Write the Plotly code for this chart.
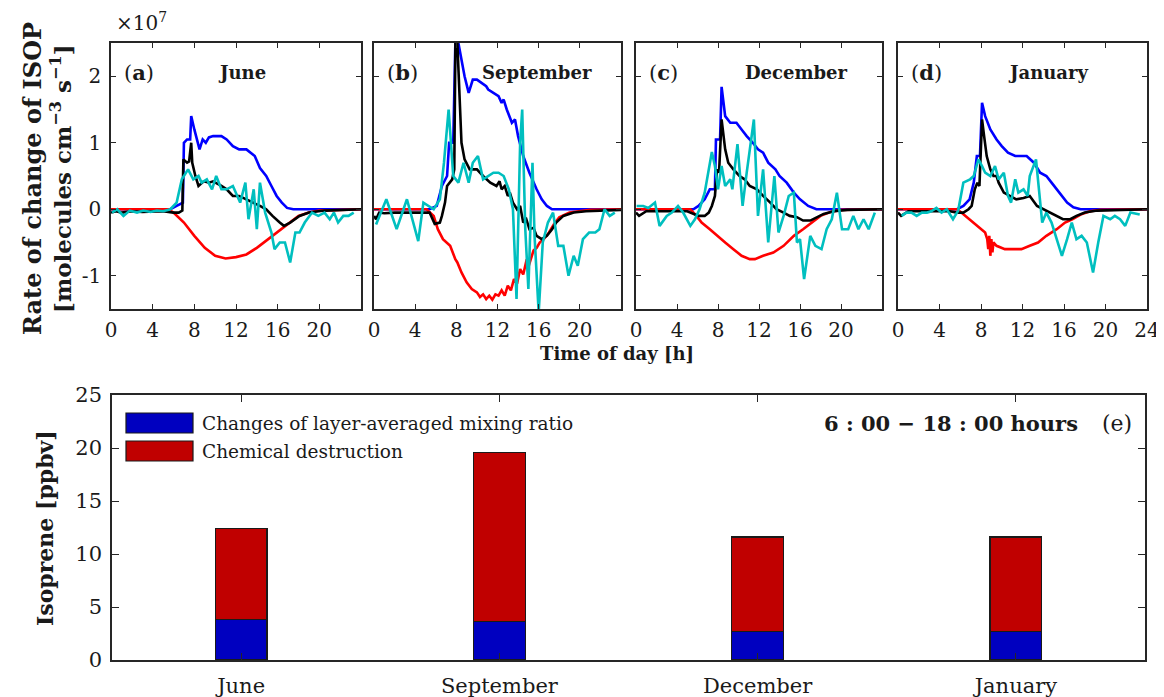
import plotly.graph_objects as go

# ---------------- data (units of 1e7 molecules cm^-3 s^-1) ----------------
# June
jun_blue_t = [0, 5.7, 6.3, 6.9, 7.0, 7.3, 7.6, 7.7, 8.0, 8.5, 8.8, 9.1, 9.4, 9.8, 10.6, 11.1, 11.7, 12.3, 13.0, 13.4, 13.8, 14.3, 14.9, 15.4, 15.9, 16.4, 16.9, 17.5, 24]
jun_blue_v = [0, 0, 0.05, 0.1, 1.0, 1.05, 1.05, 1.4, 1.2, 0.9, 1.05, 1.0, 1.08, 1.1, 1.1, 1.05, 0.95, 0.9, 0.9, 0.85, 0.8, 0.62, 0.5, 0.35, 0.2, 0.1, 0.02, 0, 0]
jun_red_t = [0, 5.5, 6, 7, 8, 9, 10, 11, 12, 13, 14, 15, 16, 17, 18, 19, 20, 24]
jun_red_v = [0, 0, -0.05, -0.2, -0.4, -0.58, -0.7, -0.74, -0.72, -0.68, -0.58, -0.46, -0.33, -0.21, -0.1, -0.05, -0.02, 0]
jun_black_t = [0, 0.5, 1, 2, 3, 4, 5, 6, 6.5, 6.85, 6.95, 7.3, 7.5, 7.7, 7.8, 8.1, 8.4, 8.9, 9.4, 9.8, 10.3, 10.6, 11.1, 11.7, 12.3, 13.0, 13.7, 14.3, 14.9, 15.5, 16.2, 16.6, 17.2, 18.1, 19.0, 20.5, 24]
jun_black_v = [-0.05, -0.03, -0.05, -0.03, -0.04, -0.03, -0.03, -0.05, -0.05, -0.02, 0.75, 0.7, 0.72, 1.0, 0.7, 0.5, 0.35, 0.42, 0.4, 0.42, 0.38, 0.35, 0.3, 0.2, 0.2, 0.15, 0.1, 0.05, 0.0, -0.1, -0.2, -0.25, -0.2, -0.1, -0.05, -0.02, 0]
jun_cyan_t = [0.1, 0.6, 1.2, 1.8, 2.5, 3.1, 3.8, 4.4, 5.0, 5.7, 6.3, 6.8, 7.4, 7.9, 8.4, 8.7, 9.2, 9.7, 10.1, 10.6, 11.1, 11.7, 12.4, 12.9, 13.2, 13.7, 14.0, 14.3, 14.8, 15.4, 15.7, 16.2, 16.7, 17.2, 17.7, 18.1, 18.6, 19.3, 19.9, 20.5, 21.0, 21.4, 21.8, 22.3, 22.8, 23.3]
jun_cyan_v = [-0.05, 0, -0.1, -0.02, -0.05, -0.02, -0.04, -0.02, -0.03, 0, 0.1, 0.45, 0.6, 0.45, 0.5, 0.4, 0.45, 0.3, 0.5, 0.3, 0.3, 0.35, 0.1, 0.4, -0.15, 0.3, -0.3, 0.4, -0.05, -0.35, -0.6, -0.5, -0.5, -0.8, -0.35, -0.35, -0.2, -0.05, -0.1, -0.05, -0.15, -0.05, -0.2, -0.1, -0.1, -0.05]

# September
sep_blue_t = [0, 5.4, 6.1, 6.6, 7.1, 7.3, 7.7, 7.9, 8.0, 8.2, 8.8, 9.2, 9.6, 10.0, 10.5, 10.9, 11.1, 11.6, 12.1, 12.4, 12.6, 12.9, 13.4, 13.7, 14.0, 14.5, 15.1, 15.8, 16.3, 16.8, 17.3, 24]
sep_blue_v = [0, 0, 0.05, 0.35, 0.5, 1.0, 1.0, 2.0, 3.2, 2.5, 2.0, 1.75, 1.95, 1.95, 1.9, 1.85, 1.8, 1.75, 1.7, 1.6, 1.65, 1.5, 1.3, 1.35, 1.1, 0.8, 0.55, 0.3, 0.15, 0.05, 0, 0]
sep_red_t = [0, 5.1, 5.8, 6.2, 6.7, 7.4, 7.9, 8.1, 8.5, 9.0, 9.5, 10.0, 10.3, 10.6, 10.9, 11.2, 11.5, 11.8, 12.1, 12.4, 12.7, 13.0, 13.3, 13.6, 13.9, 14.2, 14.5, 14.8, 15.1, 15.5, 15.8, 16.1, 16.5, 17.0, 17.5, 18.0, 19.0, 20.0, 21.0, 24]
sep_red_v = [0, 0, -0.1, -0.3, -0.45, -0.55, -0.75, -0.8, -0.95, -1.1, -1.2, -1.25, -1.32, -1.28, -1.35, -1.3, -1.36, -1.28, -1.3, -1.22, -1.3, -1.15, -1.22, -1.05, -1.12, -0.9, -0.98, -0.78, -0.82, -0.62, -0.58, -0.5, -0.45, -0.35, -0.22, -0.12, -0.05, -0.03, -0.01, 0]
sep_black_t = [0, 0.2, 0.5, 1, 2, 3, 4, 5, 5.4, 5.9, 6.4, 6.6, 6.9, 7.1, 7.4, 7.6, 7.8, 8.0, 8.1, 8.3, 8.5, 8.8, 9.3, 10.0, 10.6, 11.3, 11.9, 12.2, 12.4, 12.7, 13.0, 13.2, 13.5, 13.9, 14.2, 14.5, 14.8, 15.1, 15.5, 15.8, 16.3, 16.8, 17.3, 17.7, 18.4, 19.4, 20.6, 24]
sep_black_v = [-0.1, -0.15, -0.05, -0.06, -0.05, -0.05, -0.05, -0.05, -0.05, -0.22, -0.2, -0.1, 0.1, 0.35, 0.4, 0.45, 0.6, 4.0, 2.5, 1.8, 1.0, 0.75, 0.6, 0.6, 0.5, 0.4, 0.35, 0.42, 0.3, 0.35, 0.2, 0.25, 0.1, 0.0, 0.05, -0.2, -0.15, -0.3, -0.28, -0.4, -0.45, -0.4, -0.3, -0.2, -0.1, -0.05, -0.03, -0.01]
sep_cyan_t = [0.2, 1.2, 2.2, 3.2, 4.3, 4.8, 5.8, 6.4, 6.8, 7.25, 7.7, 8.2, 8.7, 9.2, 9.6, 10.1, 10.6, 11.1, 11.6, 12.1, 12.6, 13.1, 13.5, 13.85, 14.2, 14.4, 14.7, 15.0, 15.4, 15.6, 16.0, 16.4, 16.9, 17.4, 17.9, 18.4, 18.9, 19.4, 19.8, 20.3, 20.9, 21.5, 21.9, 22.4, 22.9, 23.4]
sep_cyan_v = [-0.23, 0.15, -0.3, 0.15, -0.48, 0.1, 0.0, 0.15, 0.7, 1.5, 0.5, 0.4, 0.7, 0.4, 0.7, 0.8, 0.45, 0.5, 0.55, 0.55, 0.5, 0.3, 0.0, -1.35, 1.0, 1.5, -0.3, -1.2, 0.7, -0.4, -1.55, -0.5, -0.2, -0.05, -0.55, -0.55, -1.0, -0.7, -0.85, -0.45, -0.35, -0.35, -0.3, 0.0, -0.1, -0.05]

# December
dec_blue_t = [0, 5.6, 6.1, 6.7, 7.2, 7.7, 7.8, 8.2, 8.35, 8.7, 9.2, 9.8, 10.3, 10.8, 11.4, 11.9, 12.4, 12.9, 13.6, 14.0, 14.7, 15.4, 16.0, 16.8, 17.6, 24]
dec_blue_v = [0, 0, 0.05, 0.15, 0.3, 0.3, 1.05, 1.05, 1.84, 1.4, 1.3, 1.3, 1.2, 1.1, 1.0, 0.9, 0.85, 0.7, 0.6, 0.5, 0.4, 0.25, 0.15, 0.05, 0, 0]
dec_red_t = [0, 5.3, 5.9, 6.4, 7.2, 7.9, 8.7, 9.5, 10.3, 11.1, 11.6, 12.4, 13.4, 14.4, 15.4, 16.3, 17.1, 18.0, 19.0, 20.0, 24]
dec_red_v = [0, 0, -0.1, -0.2, -0.3, -0.4, -0.5, -0.6, -0.7, -0.75, -0.75, -0.7, -0.65, -0.55, -0.4, -0.3, -0.2, -0.1, -0.04, -0.01, 0]
dec_black_t = [0, 0.3, 1, 3, 5, 6.1, 6.7, 7.1, 7.4, 7.7, 7.9, 8.1, 8.35, 8.7, 9.0, 9.5, 10.1, 10.6, 11.1, 11.8, 12.4, 13.1, 13.7, 14.4, 15.0, 15.7, 16.3, 17.0, 17.6, 18.3, 19.3, 20.6, 24]
dec_black_v = [-0.05, -0.1, -0.03, -0.03, -0.03, -0.1, -0.1, -0.05, 0.05, 0.2, 0.6, 0.55, 1.35, 0.9, 0.7, 0.6, 0.5, 0.45, 0.35, 0.3, 0.2, 0.1, 0.0, -0.05, -0.1, -0.12, -0.17, -0.17, -0.12, -0.07, -0.03, -0.01, 0]
dec_cyan_t = [0.06, 0.7, 1.2, 1.85, 2.3, 3.0, 3.5, 4.1, 4.6, 5.3, 5.75, 6.2, 6.7, 7.4, 7.7, 8.0, 8.35, 8.7, 9.2, 9.4, 9.9, 10.4, 10.8, 11.5, 11.9, 12.4, 12.9, 13.5, 13.9, 14.4, 14.9, 15.4, 15.7, 16.0, 16.4, 17.0, 17.5, 18.1, 18.6, 19.1, 19.6, 20.1, 20.7, 21.2, 21.7, 22.2, 22.7, 23.3]
dec_cyan_v = [0.05, 0.05, 0.02, 0.1, -0.25, -0.1, -0.05, 0.05, -0.05, -0.25, -0.15, 0.0, 0.25, 0.86, 0.65, 0.3, 0.65, 0.35, 0.45, 0.3, 0.98, 0.05, 0.55, 1.35, -0.1, 0.6, -0.5, 0.5, -0.35, -0.1, 0.2, 0.25, -0.5, -0.45, -1.05, -0.4, -0.55, -0.6, -0.3, -0.15, 0.25, -0.3, -0.3, -0.1, -0.3, -0.15, -0.3, -0.05]

# January
jan_blue_t = [0, 5.7, 6.3, 6.9, 7.3, 7.6, 7.9, 8.1, 8.4, 8.9, 9.5, 10.0, 10.6, 11.3, 12.4, 13.1, 13.7, 14.3, 14.8, 15.3, 15.8, 16.3, 16.9, 17.6, 24]
jan_blue_v = [0, 0, 0.05, 0.15, 0.4, 0.8, 0.8, 1.6, 1.4, 1.2, 1.05, 0.95, 0.85, 0.8, 0.8, 0.7, 0.55, 0.5, 0.4, 0.3, 0.2, 0.1, 0.03, 0, 0]
jan_red_t = [0, 5.7, 6.1, 6.9, 7.7, 8.4, 8.6, 8.7, 8.8, 8.9, 9.0, 9.1, 9.2, 9.5, 10.3, 11.1, 11.9, 12.7, 13.5, 14.3, 15.3, 16.1, 16.8, 17.6, 18.5, 19.5, 24]
jan_red_v = [0, 0, -0.05, -0.15, -0.25, -0.35, -0.45, -0.6, -0.4, -0.7, -0.45, -0.65, -0.5, -0.55, -0.6, -0.6, -0.6, -0.55, -0.5, -0.4, -0.3, -0.2, -0.15, -0.08, -0.03, -0.01, 0]
jan_black_t = [0, 0.3, 1, 3, 5, 5.7, 6.3, 6.8, 7.1, 7.4, 7.65, 7.85, 8.1, 8.3, 8.55, 8.9, 9.2, 9.5, 9.7, 10.2, 10.8, 11.4, 12.1, 12.7, 13.4, 14.0, 14.7, 15.3, 15.9, 16.6, 17.2, 18.0, 19.2, 24]
jan_black_v = [-0.05, -0.1, -0.03, -0.03, -0.03, -0.05, -0.05, 0.0, 0.05, 0.3, 0.4, 0.35, 1.35, 1.1, 0.8, 0.6, 0.5, 0.5, 0.4, 0.25, 0.2, 0.15, 0.17, 0.2, 0.05, 0.0, -0.05, -0.1, -0.15, -0.15, -0.1, -0.05, -0.02, 0]
jan_cyan_t = [0.35, 0.8, 1.3, 1.8, 2.3, 2.8, 3.2, 3.7, 4.2, 4.7, 5.3, 5.8, 6.3, 6.95, 7.3, 7.75, 8.1, 8.4, 8.9, 9.35, 9.7, 10.2, 10.6, 10.9, 11.3, 11.6, 12.1, 12.5, 12.7, 13.3, 13.9, 14.3, 14.8, 15.3, 15.8, 16.3, 16.75, 17.2, 17.7, 18.2, 18.8, 19.3, 19.8, 20.45, 20.9, 21.4, 21.9, 22.4, 23.3]
jan_cyan_v = [-0.1, -0.05, -0.05, -0.1, -0.05, -0.05, -0.03, 0.02, -0.05, 0.0, -0.15, -0.02, 0.4, 0.45, 0.5, 0.75, 0.65, 0.55, 0.5, 0.65, 0.45, 0.55, 0.2, 0.1, 0.45, 0.25, 0.3, 0.2, 0.5, 0.75, -0.2, -0.05, -0.2, -0.45, -0.7, -0.45, -0.2, -0.45, -0.4, -0.5, -0.95, -0.5, -0.1, -0.15, -0.1, -0.15, -0.25, -0.05, -0.08]

panel_months = ["June", "September", "December", "January"]
panel_letters = ["a", "b", "c", "d"]
time_ticks_abc = [0, 4, 8, 12, 16, 20]
time_ticks_d = [0, 4, 8, 12, 16, 20, 24]
rate_ticks = [-1, 0, 1, 2]
rate_ticktext = ["-1", "0", "1", "2"]

# Bar chart (ppbv, 6:00-18:00)
bar_months = ["June", "September", "December", "January"]
mixing_change = [3.8, 3.6, 2.7, 2.7]
chem_destruction = [8.6, 16.0, 8.9, 8.9]
bar_ticks = [0, 5, 10, 15, 20, 25]

# ---------------- figure ----------------
# the page body has an 8 px margin, so the figure starts 8 px in from the corner
OFF = 8
W, H = 1164 - OFF, 697 - OFF
FONT = "DejaVu Serif"
AX = "#262626"
TXT = "#1a1a1a"

def px(x):
    return (x - OFF) / W

def py(y):
    return 1 - (y - OFF) / H

series = [
    [(jun_blue_t, jun_blue_v), (jun_red_t, jun_red_v), (jun_black_t, jun_black_v), (jun_cyan_t, jun_cyan_v)],
    [(sep_blue_t, sep_blue_v), (sep_red_t, sep_red_v), (sep_black_t, sep_black_v), (sep_cyan_t, sep_cyan_v)],
    [(dec_blue_t, dec_blue_v), (dec_red_t, dec_red_v), (dec_black_t, dec_black_v), (dec_cyan_t, dec_cyan_v)],
    [(jan_blue_t, jan_blue_v), (jan_red_t, jan_red_v), (jan_black_t, jan_black_v), (jan_cyan_t, jan_cyan_v)],
]
for s in series:
    for t, v in s:
        assert len(t) == len(v), (len(t), len(v))

line_colors = ["#0000FF", "#FF0000", "#000000", "#00BFBF"]
line_names = ["production", "chemistry", "net", "observed"]

fig = go.Figure()

panel_x = [(111, 361), (374, 621), (636, 882), (898, 1147)]
top_y = (43, 309)

layout = dict(
    width=W, height=H,
    margin=dict(l=0, r=0, t=0, b=0, pad=0),
    paper_bgcolor="white", plot_bgcolor="white",
    showlegend=False,
    font=dict(family=FONT, color=TXT, size=20),
)

tick_font = dict(size=20, family=FONT, color=TXT)
bar_tick_font = dict(size=21, family=FONT, color=TXT)

for i in range(4):
    ax = "" if i == 0 else str(i + 1)
    for (t, v), c, n in zip(series[i], line_colors, line_names):
        fig.add_trace(go.Scatter(x=t, y=v, mode="lines", name=n,
                                 line=dict(color=c, width=2.6),
                                 xaxis="x" + ax, yaxis="y" + ax,
                                 hoverinfo="skip"))
    x0, x1 = panel_x[i]
    layout["xaxis" + ax] = dict(
        domain=[px(x0), px(x1)], anchor="y" + ax, range=[0, 24], automargin=False,
        tickvals=time_ticks_d if i == 3 else time_ticks_abc,
        showgrid=False, zeroline=False, showline=True, mirror="allticks",
        linecolor=AX, linewidth=1.6, ticks="inside", ticklen=5, tickcolor=AX,
        tickfont=tick_font, ticklabelstandoff=2,
    )
    layout["yaxis" + ax] = dict(
        domain=[py(top_y[1]), py(top_y[0])], anchor="x" + ax, range=[-1.5, 2.5], automargin=False,
        tickvals=rate_ticks, ticktext=rate_ticktext, showticklabels=(i == 0),
        showgrid=False, zeroline=False, showline=True, mirror="allticks",
        linecolor=AX, linewidth=1.6, ticks="inside", ticklen=5, tickcolor=AX,
        tickfont=tick_font, ticklabelstandoff=4,
    )

# bottom bar panel
fig.add_trace(go.Bar(x=bar_months, y=mixing_change, name="Changes of layer-averaged mixing ratio",
                     marker=dict(color="#0000C0", line=dict(color="#1a1a1a", width=1.2)),
                     width=0.2, xaxis="x5", yaxis="y5", hoverinfo="skip"))
fig.add_trace(go.Bar(x=bar_months, y=chem_destruction, name="Chemical destruction",
                     marker=dict(color="#C00000", line=dict(color="#1a1a1a", width=1.2)),
                     width=0.2, xaxis="x5", yaxis="y5", hoverinfo="skip"))

layout["barmode"] = "stack"
layout["xaxis5"] = dict(
    domain=[px(112), px(1145)], anchor="y5", range=[-0.5, 3.5], type="category", automargin=False,
    showgrid=False, zeroline=False, showline=True, mirror="allticks",
    linecolor=AX, linewidth=1.6, ticks="inside", ticklen=7, tickcolor=AX,
    tickfont=bar_tick_font, ticklabelstandoff=6,
)
layout["yaxis5"] = dict(
    domain=[py(660), py(395)], anchor="x5", range=[0, 25], tickvals=bar_ticks, automargin=False,
    showgrid=False, zeroline=False, showline=True, mirror="allticks",
    linecolor=AX, linewidth=1.6, ticks="inside", ticklen=7, tickcolor=AX,
    tickfont=bar_tick_font, ticklabelstandoff=4,
)

ann = []
def add_text(x, y, text, size, xanchor="center", yanchor="middle", angle=0):
    ann.append(dict(x=px(x), y=py(y), xref="paper", yref="paper", text=text,
                    showarrow=False, xanchor=xanchor, yanchor=yanchor,
                    textangle=angle, font=dict(family=FONT, size=size, color=TXT)))

# panel labels & month titles
label_x = [139, 402, 663, 926]
month_x = [242, 537, 796, 1048]
for i in range(4):
    add_text(label_x[i], 72, "(<b>%s</b>)" % panel_letters[i], 21)
    add_text(month_x[i], 73, "<b>%s</b>" % panel_months[i], 18)

add_text(141, 22, "×10<sup>7</sup>", 20)
add_text(32, 179, "<b>Rate of change of ISOP</b>", 24, angle=-90)
add_text(61, 179, "<b>[molecules cm<sup>−3</sup> s<sup>−1</sup>]</b>", 23, angle=-90)
add_text(617, 354, "<b>Time of day [h]</b>", 18)

add_text(45, 528, "<b>Isoprene [ppbv]</b>", 22, angle=-90)
add_text(1080, 423, "<b>6 : 00 − 18 : 00 hours</b>", 21, xanchor="right")
add_text(1117, 423, "(e)", 22)

# legend (drawn manually to match the large swatches)
add_text(200, 423, "Changes of layer-averaged mixing ratio", 18.5, xanchor="left")
add_text(200, 451, "Chemical destruction", 18.5, xanchor="left")
shapes = [
    dict(type="rect", xref="paper", yref="paper", x0=px(126), x1=px(193), y0=py(433), y1=py(413),
         fillcolor="#0000C0", line=dict(color="#1a1a1a", width=1.2)),
    dict(type="rect", xref="paper", yref="paper", x0=px(126), x1=px(193), y0=py(461), y1=py(441),
         fillcolor="#C00000", line=dict(color="#1a1a1a", width=1.2)),
]

layout["annotations"] = ann
layout["shapes"] = shapes
fig.update_layout(**layout)

fig.write_html("out.html")
